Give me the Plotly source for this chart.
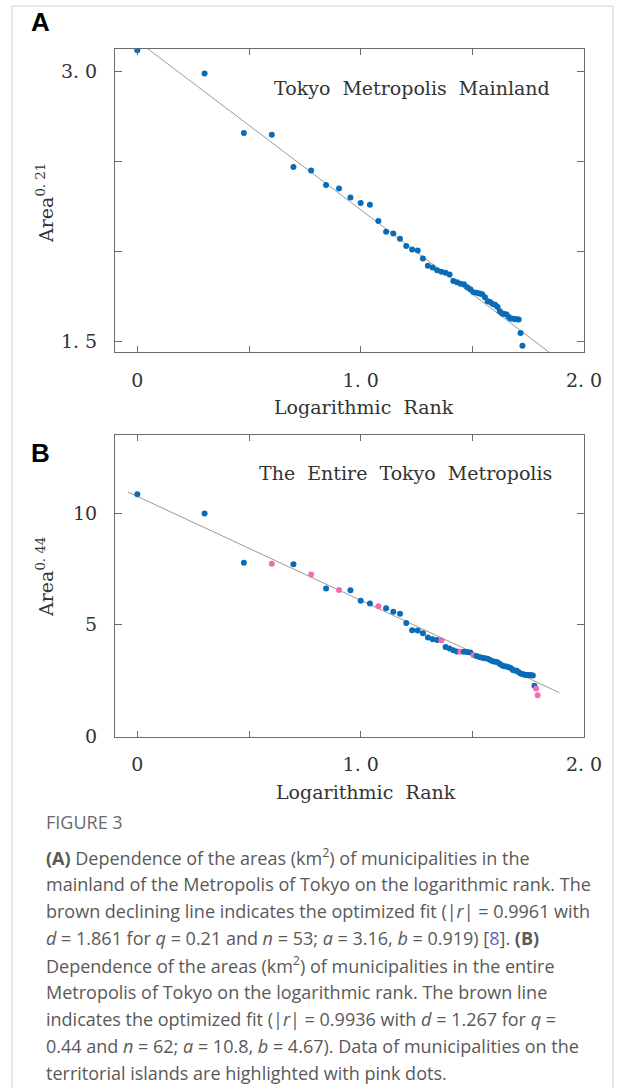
import numpy as np
import plotly.graph_objects as go

W, H = 625, 1088

# ---------------- data ----------------
rank_A = list(range(1, 54))
area_pow_A = [3.12, 2.99, 2.66, 2.65, 2.47, 2.45, 2.37, 2.35, 2.30, 2.27,
              2.26, 2.17, 2.11, 2.10, 2.07, 2.03, 2.01, 2.005, 1.96, 1.92,
              1.91, 1.895, 1.887, 1.881, 1.872, 1.835, 1.828, 1.820, 1.817, 1.801,
              1.789, 1.772, 1.770, 1.766, 1.761, 1.745, 1.723, 1.719, 1.707, 1.703,
              1.690, 1.667, 1.655, 1.652, 1.649, 1.635, 1.626, 1.625, 1.624, 1.623,
              1.621, 1.546, 1.475]

rank_B = list(range(1, 63))
area_pow_B = [10.85, 9.98, 7.78, 7.73, 7.71, 7.25, 6.63, 6.56, 6.55, 6.08,
              5.96, 5.83, 5.74, 5.59, 5.50, 5.08, 4.76, 4.75, 4.62, 4.43,
              4.35, 4.32, 4.31, 4.01, 3.94, 3.86, 3.81, 3.80, 3.79, 3.78,
              3.76, 3.64, 3.60, 3.56, 3.53, 3.50, 3.48, 3.42, 3.37, 3.35,
              3.33, 3.25, 3.18, 3.15, 3.13, 3.10, 3.07, 2.98, 2.96, 2.94,
              2.88, 2.82, 2.80, 2.77, 2.76, 2.75, 2.75, 2.74, 2.73, 2.27,
              2.15, 1.85]
island_ranks_B = [4, 6, 8, 12, 23, 28, 32, 61, 62]

# fitted lines (intercept, slope, x extent)
fit_A = {"a": 3.172, "b": 0.94, "x0": 0.048, "x1": 1.856}
fit_B = {"a": 10.75, "b": 4.65, "x0": -0.042, "x1": 1.89}

x_tickvals = [0, 1.0, 2.0]
x_ticktext = ["0", "1. 0", "2. 0"]
x_minorvals = [0.5, 1.5]
yA_tickvals = [1.5, 3.0]
yA_ticktext = ["1. 5", "3. 0"]
yA_minorvals = [2.0, 2.5]
yB_tickvals = [0, 5, 10]
yB_ticktext = ["0", "5", "10"]

caption_lines = [
    "<b>(A)</b> Dependence of the areas (km<sup>2</sup>) of municipalities in the",
    "mainland of the Metropolis of Tokyo on the logarithmic rank. The",
    "brown declining line indicates the optimized fit (|<i>r</i>| = 0.9961 with",
    "<i>d</i> = 1.861 for <i>q</i> = 0.21 and <i>n</i> = 53; <i>a</i> = 3.16, <i>b</i> = 0.919) [<span style='color:#5b5fc7'>8</span>]. <b>(B)</b>",
    "Dependence of the areas (km<sup>2</sup>) of municipalities in the entire",
    "Metropolis of Tokyo on the logarithmic rank. The brown line",
    "indicates the optimized fit (|<i>r</i>| = 0.9936 with <i>d</i> = 1.267 for <i>q</i> =",
    "0.44 and <i>n</i> = 62; <i>a</i> = 10.8, <i>b</i> = 4.67). Data of municipalities on the",
    "territorial islands are highlighted with pink dots.",
]

# ---------------- styling ----------------
BLUE = "#0a6cb6"
PINK = "#f26cb4"
LINE = "#9a9a9a"
AXC = "#6b6b6b"
SERIF = "DejaVu Serif"
SANS = "Open Sans"
TXT = "#333333"


def py(p):
    return 1 - p / H


def px(p):
    return p / W


fig = go.Figure()

xA = np.log10(rank_A)
fig.add_trace(go.Scatter(x=[fit_A["x0"], fit_A["x1"]],
                         y=[fit_A["a"] - fit_A["b"] * fit_A["x0"], fit_A["a"] - fit_A["b"] * fit_A["x1"]],
                         mode="lines", line=dict(color=LINE, width=1), xaxis="x", yaxis="y",
                         hoverinfo="skip"))
fig.add_trace(go.Scatter(x=xA, y=area_pow_A, mode="markers",
                         marker=dict(color=BLUE, size=6), xaxis="x", yaxis="y"))

xB = np.log10(rank_B)
colors_B = [PINK if r in island_ranks_B else BLUE for r in rank_B]
fig.add_trace(go.Scatter(x=[fit_B["x0"], fit_B["x1"]],
                         y=[fit_B["a"] - fit_B["b"] * fit_B["x0"], fit_B["a"] - fit_B["b"] * fit_B["x1"]],
                         mode="lines", line=dict(color=LINE, width=1), xaxis="x2", yaxis="y2",
                         hoverinfo="skip"))
fig.add_trace(go.Scatter(x=xB, y=area_pow_B, mode="markers",
                         marker=dict(color=colors_B, size=6), xaxis="x2", yaxis="y2"))

x_dom = [px(115), px(584)]
yA_dom = [py(352), py(49)]
yB_dom = [py(736.5), py(435)]

tickfont = dict(family=SERIF, size=19, color=TXT)
common_x = dict(range=[-0.1, 2.0], tickvals=x_tickvals, ticktext=x_ticktext,
                minor=dict(tickvals=x_minorvals, ticks="inside", ticklen=6, tickcolor=AXC, showgrid=False),
                showline=True, linecolor=AXC, linewidth=1, mirror="ticks",
                ticks="inside", ticklen=6, tickcolor=AXC, showgrid=False, zeroline=False,
                tickfont=tickfont, ticklabelstandoff=11, domain=x_dom)
common_y = dict(showline=True, linecolor=AXC, linewidth=1, mirror="ticks",
                ticks="inside", ticklen=7, tickcolor=AXC, showgrid=False, zeroline=False,
                tickfont=tickfont, ticklabelstandoff=13)

fig.update_layout(
    width=W, height=H, autosize=False, margin=dict(l=0, r=0, t=0, b=0, autoexpand=False),
    paper_bgcolor="white", plot_bgcolor="white", showlegend=False,
    xaxis=dict(common_x, anchor="y"),
    yaxis=dict(common_y, range=[1.44, 3.127], tickvals=yA_tickvals, ticktext=yA_ticktext,
               minor=dict(tickvals=yA_minorvals, ticks="inside", ticklen=7, tickcolor=AXC, showgrid=False),
               domain=yA_dom, anchor="x"),
    xaxis2=dict(common_x, anchor="y2"),
    yaxis2=dict(common_y, range=[0, 13.5], tickvals=yB_tickvals, ticktext=yB_ticktext,
                domain=yB_dom, anchor="x2"),
)

ann = []
# panel letters
ann.append(dict(text="<b>A</b>", x=px(40), y=py(22), font=dict(family="Liberation Sans", size=26, color="black")))
ann.append(dict(text="<b>B</b>", x=px(40), y=py(453), font=dict(family="Liberation Sans", size=26, color="black")))
# inner titles
ann.append(dict(text="Tokyo  Metropolis  Mainland", x=px(412), y=py(88),
                font=dict(family=SERIF, size=19, color=TXT)))
ann.append(dict(text="The  Entire  Tokyo  Metropolis", x=px(405), y=py(473),
                font=dict(family=SERIF, size=19, color=TXT)))
# axis titles
ann.append(dict(text="Logarithmic  Rank", x=px(364), y=py(407), font=dict(family=SERIF, size=19, color=TXT)))
ann.append(dict(text="Logarithmic  Rank", x=px(366), y=py(792), font=dict(family=SERIF, size=19, color=TXT)))
ann.append(dict(text="Area<sup>0. 21</sup>", x=px(45), y=py(203), textangle=-90,
                font=dict(family=SERIF, size=19, color=TXT)))
ann.append(dict(text="Area<sup>0. 44</sup>", x=px(45), y=py(577), textangle=-90,
                font=dict(family=SERIF, size=19, color=TXT)))
# caption
ann.append(dict(text="FIGURE 3", x=px(44), y=py(822), xanchor="left",
                font=dict(family=SANS, size=18, color="#6a6a6a")))
for i, line in enumerate(caption_lines):
    ann.append(dict(text=line, x=px(44), y=py(857 + 27 * i), xanchor="left",
                    font=dict(family=SANS, size=18, color="#595959")))

for a in ann:
    a.setdefault("xanchor", "center")
    a.update(xref="paper", yref="paper", yanchor="middle", showarrow=False)
fig.update_layout(annotations=ann)

# outer light frame (top, left, right edges)
for (x0, y0, x1, y1) in [(12, 6, 613, 6), (12, 6, 12, H), (613, 6, 613, H)]:
    fig.add_shape(type="line", xref="paper", yref="paper", x0=px(x0), x1=px(x1), y0=py(y0), y1=py(y1),
                  line=dict(color="#cfcfcf", width=1), layer="below")

fig.write_html("out.html", config={"responsive": False},
               post_script="document.documentElement.style.overflow='hidden';"
                           "document.body.style.margin='0';document.body.style.overflow='hidden';")
